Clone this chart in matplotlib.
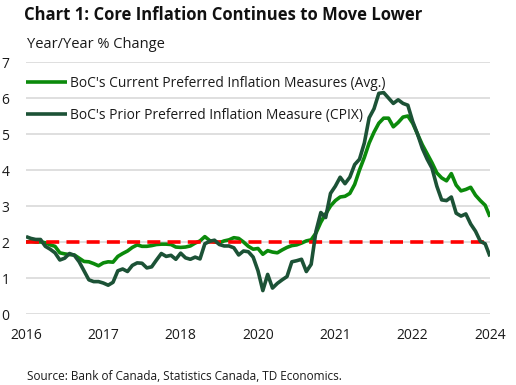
import matplotlib
matplotlib.use("Agg")
import matplotlib.pyplot as plt
import numpy as np

# Monthly data, Jan 2016 .. Jan 2024 (97 points)
current_avg = [2.00, 2.02, 2.00, 2.00, 1.98, 1.92, 1.88, 1.70, 1.67, 1.65,
               1.64, 1.55, 1.46, 1.45, 1.40, 1.34, 1.42, 1.45, 1.44, 1.60,
               1.68, 1.75, 1.85, 1.92, 1.88, 1.88, 1.90, 1.93, 1.94, 1.94,
               1.93, 1.86, 1.85, 1.86, 1.89, 1.97, 2.03, 2.15, 2.04, 2.00,
               1.98, 2.03, 2.06, 2.12, 2.10, 2.00, 1.88, 1.80, 1.82, 1.66,
               1.76, 1.72, 1.70, 1.78, 1.85, 1.90, 1.92, 1.97, 2.03, 2.06,
               2.25, 2.55, 2.78, 3.00, 3.15, 3.25, 3.27, 3.35, 3.60, 4.00,
               4.35, 4.75, 5.05, 5.30, 5.44, 5.44, 5.20, 5.32, 5.47, 5.50,
               5.30, 5.00, 4.70, 4.45, 4.20, 3.92, 3.78, 3.70, 3.90, 3.58,
               3.42, 3.46, 3.52, 3.30, 3.15, 3.02, 2.70]

cpix = [2.15, 2.10, 2.07, 2.07, 1.88, 1.80, 1.70, 1.50, 1.55, 1.68,
        1.63, 1.45, 1.20, 0.95, 0.90, 0.90, 0.86, 0.80, 0.88, 1.20,
        1.25, 1.18, 1.35, 1.42, 1.41, 1.28, 1.31, 1.50, 1.68, 1.60,
        1.63, 1.52, 1.69, 1.56, 1.52, 1.58, 1.53, 1.95, 2.02, 2.05,
        1.93, 1.89, 1.89, 1.84, 1.64, 1.75, 1.73, 1.58, 1.20, 0.65,
        1.10, 0.72, 0.85, 0.95, 1.04, 1.45, 1.48, 1.52, 1.18, 1.38,
        2.30, 2.82, 2.68, 3.35, 3.55, 3.80, 3.62, 3.80, 4.15, 4.30,
        4.75, 5.45, 5.70, 6.13, 6.15, 6.00, 5.85, 5.95, 5.85, 5.80,
        5.35, 5.00, 4.60, 4.30, 4.05, 3.55, 3.17, 3.15, 3.25, 2.80,
        2.72, 2.78, 2.50, 2.30, 2.02, 1.95, 1.60]

target = 2.0
tick_labels = ["2016", "2017", "2018", "2020", "2021", "2022", "2024"]
label_current = "BoC's Current Preferred Inflation Measures (Avg.)"
label_cpix = "BoC's Prior Preferred Inflation Measure (CPIX)"

plt.rcParams['font.family'] = ['Open Sans', 'DejaVu Sans']
txt = '#1a1a1a'

fig = plt.figure(figsize=(5.16, 3.85), dpi=100)
ax = fig.add_axes([26/516, 1-314/385, 464/516, 252/385])

x = np.arange(len(cpix))
ax.plot(x, current_avg, color='#0b8a0b', lw=2.6, solid_capstyle='butt', zorder=3,
        label=label_current)
ax.axhline(target, color='#ff0000', lw=2.6, dashes=(3.6, 2.0), zorder=4)
ax.plot(x, cpix, color='#1c5236', lw=2.6, solid_capstyle='butt', zorder=5,
        label=label_cpix)

ax.set_xlim(0, len(cpix) - 1)
ax.set_ylim(0, 7)
ax.set_yticks(range(0, 8))
ax.set_xticks(np.linspace(0, len(cpix) - 1, len(tick_labels)))
ax.set_xticklabels(tick_labels)
ax.grid(axis='y', color='#d9d9d9', lw=1.2, zorder=0)
ax.set_axisbelow(True)
for s in ax.spines.values():
    s.set_visible(False)
ax.tick_params(length=0, labelsize=10, colors=txt)
ax.tick_params(axis='y', pad=12)
ax.tick_params(axis='x', pad=10)

leg = ax.legend(loc='upper left', bbox_to_anchor=(0.0, 0.945), frameon=False,
                fontsize=9.9, handlelength=3.0, handletextpad=0.2,
                labelspacing=1.25, borderaxespad=0, borderpad=0)
for t in leg.get_texts():
    t.set_color(txt)

fig.text(24/516, 1-15/385, "Chart 1: Core Inflation Continues to Move Lower",
         fontsize=12, fontweight='bold', color='#111111', va='center', ha='left')
fig.text(27/516, 1-45/385, "Year/Year % Change", fontsize=10.5, color=txt,
         va='center', ha='left')
fig.text(27/516, 1-376/385, "Source: Bank of Canada, Statistics Canada, TD Economics.",
         fontsize=8.5, color=txt, va='center', ha='left')

fig.savefig("out.png", dpi=100)
